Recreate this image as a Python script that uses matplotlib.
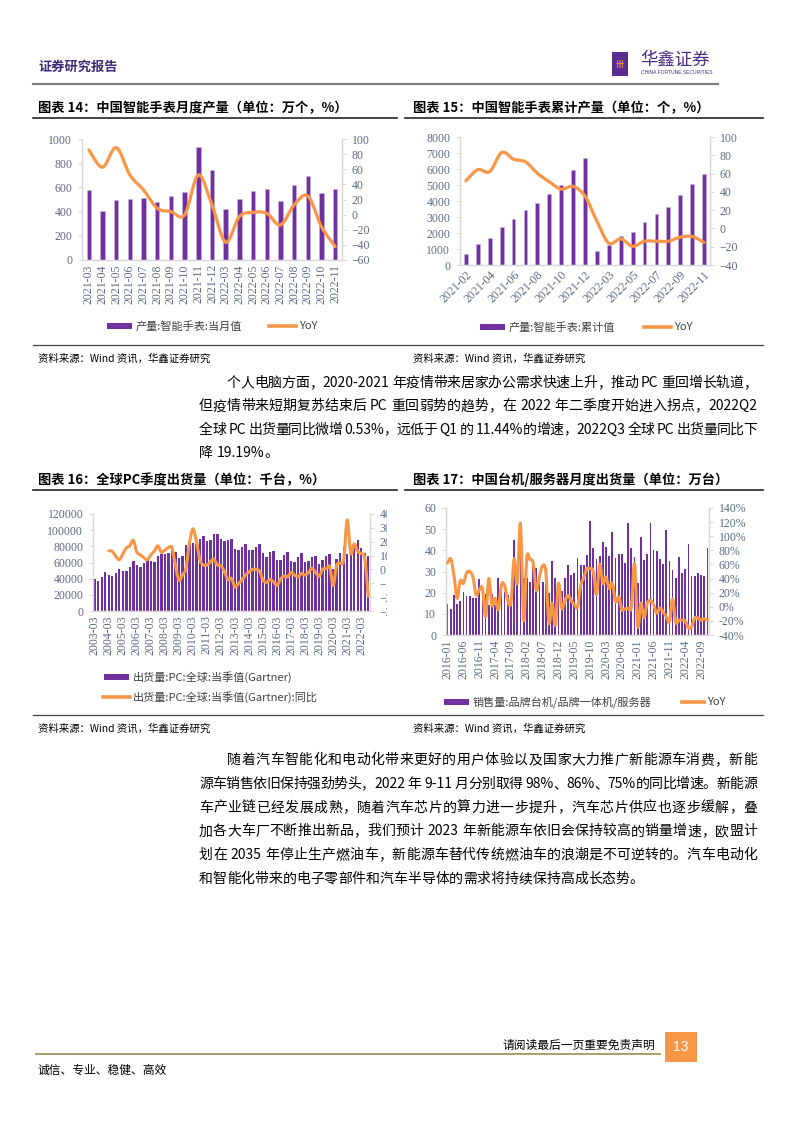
# Report page: smartwatch output, PC shipments, desktop/server shipments
import numpy as np
import matplotlib
matplotlib.use('Agg')
import matplotlib.pyplot as plt
from matplotlib.path import Path
from matplotlib.patches import PathPatch, Rectangle
from matplotlib.lines import Line2D
from matplotlib.transforms import Bbox
from matplotlib.font_manager import FontProperties

plt.rcParams['font.family'] = ['Liberation Serif', 'Noto Sans CJK SC', 'DejaVu Sans']

# ---------------- data ----------------
# chart 14: monthly smartwatch output (10k units) and YoY (%)
c14_months = ['2021-03', '2021-04', '2021-05', '2021-06', '2021-07', '2021-08', '2021-09',
              '2021-10', '2021-11', '2021-12', '2022-03', '2022-04', '2022-05', '2022-06',
              '2022-07', '2022-08', '2022-09', '2022-10', '2022-11']
c14_output = [578, 408, 496, 501, 510, 477, 526, 565, 934, 747, 421, 501, 570, 584, 485, 617, 694, 551, 584]
c14_yoy = [85.5, 62.6, 88.6, 52.4, 32.6, 8.4, 4.0, -0.4, 52.4, 12.8, -36.6, -2.6, 3.0, 1.8,
           -13.7, 12.8, 24.7, -15.9, -42.3]

# chart 15: cumulative smartwatch output and YoY (%)
c15_months = ['2021-02', '2021-03', '2021-04', '2021-05', '2021-06', '2021-07', '2021-08',
              '2021-09', '2021-10', '2021-11', '2021-12', '2022-02', '2022-03', '2022-04',
              '2022-05', '2022-06', '2022-07', '2022-08', '2022-09', '2022-10', '2022-11']
c15_cum = [714, 1302, 1701, 2394, 2898, 3423, 3885, 4410, 4977, 5943, 6678,
           861, 1260, 1785, 2079, 2688, 3171, 3654, 4347, 5082, 5670]
c15_yoy = [52.2, 64.3, 62.1, 83.1, 75.7, 72.8, 60.3, 51.0, 43.0, 46.0, 35.3,
           8.0, -16.2, -11.4, -19.5, -14.0, -14.0, -14.0, -9.6, -8.8, -15.4]

# chart 16: global PC quarterly shipments (k units), 2003Q1 - 2022Q3, YoY from 2004Q1
c16_years = list(range(2003, 2023))
c16_ship = [39500, 37500, 42500, 48500,
            45000, 43000, 47000, 51500,
            50000, 49000, 55000, 62000,
            56500, 54000, 59500, 63000,
            61500, 60500, 68000, 71000,
            71000, 71500, 80500, 73500,
            65500, 68000, 81500, 86000,
            84500, 82500, 88500, 93000,
            87000, 87500, 95000, 95000,
            88700, 86600, 87800, 88700,
            76700, 75500, 79600, 82900,
            75500, 75500, 79600, 82900,
            71300, 67200, 72600, 74600,
            63100, 63100, 69300, 72600,
            61900, 60600, 66400, 71300,
            61000, 61900, 66400, 68000,
            58100, 63100, 67600, 70500,
            51500, 63900, 71300, 79400,
            69900, 71600, 84100, 88400,
            77500, 72000, 68000]
c16_yoy = [13.5, 13.0, 9.5, 7.0, 11.0, 15.5, 17.0, 21.0, 12.5, 10.5, 8.5, 7.0,
           10.5, 13.3, 17.0, 12.4, 14.0, 15.7, 15.7, 3.1, -7.7, -4.1, 0.7, 18.9,
           29.3, 20.0, 6.8, 3.1, 3.1, 5.6, 7.3, 3.1, 2.7, -1.7, -7.3, -6.5,
           -12.6, -10.2, -7.7, -4.1, -1.7, 0.0, 0.0, -1.2, -7.7, -9.4, -7.3, -9.0,
           -11.4, -7.0, -4.8, -5.3, -2.2, -4.1, -5.3, -2.9, -4.1, -2.2, 0.7, -2.2,
           -4.8, 0.2, 0.7, 2.0, -11.4, 3.1, 4.4, 6.8, 35.8, 11.6, 18.4, 12.8,
           11.44, 8.0, -19.19]

# chart 17: China brand desktop / all-in-one / server monthly sales (10k units), 2016-01 - 2022-11
c17_sales = [14.6, 12.3, 19.0, 14.5, 16.1, 20.2, 18.2, 18.2, 17.4, 17.6, 26.5, 17.5,
             19.5, 14.0, 19.5, 14.0, 26.8, 22.0, 20.5, 18.7, 15.0, 45.0, 25.0, 37.0,
             27.0, 27.0, 25.0, 33.0, 31.5, 28.0, 25.0, 28.0, 20.0, 35.0, 27.0, 21.0,
             21.0, 27.0, 33.0, 28.5, 29.5, 36.5, 33.0, 33.0, 38.0, 54.0, 41.0, 36.0,
             37.5, 44.0, 41.5, 37.5, 48.5, 36.5, 38.5, 38.5, 34.0, 53.0, 41.0, 37.0,
             24.5, 46.5, 35.5, 38.5, 53.0, 40.0, 39.5, 36.0, 33.5, 49.5, 35.0, 30.5,
             27.0, 37.0, 29.5, 31.0, 43.0, 28.0, 28.0, 29.5, 28.5, 28.0, 41.0]
c17_yoy = [62, 68, 45, 12, 37, 33, 48, 50, 42, 17, 24, 26,
           -14, 40, 2, 12, -4, 31, 30, 9, 6, 68, 33, 118,
           -19, 69, 67, 62, 23, 43, 58, 50, -23, 5, -26, 33,
           -2, 8, 16, 9, 3, 0, 30, 42, 54, 54, 50, 17,
           60, 33, 42, 26, 33, 7, 14, -4, -3, -2, 0, 61,
           -28, 5, -15, 5, 9, 3, -9, -2, -7, -14, -21, 11,
           -22, -19, -19, -20, -30, -28, -16, -16, -19, -17, -19]

para1 = ['个人电脑方面，2020-2021 年疫情带来居家办公需求快速上升，推动 PC 重回增长轨道，',
         '但疫情带来短期复苏结束后 PC 重回弱势的趋势，在 2022 年二季度开始进入拐点，2022Q2',
         '全球 PC 出货量同比微增 0.53%，远低于 Q1 的 11.44%的增速，2022Q3 全球 PC 出货量同比下',
         '降 19.19%。']
para2 = ['随着汽车智能化和电动化带来更好的用户体验以及国家大力推广新能源车消费，新能',
         '源车销售依旧保持强劲势头，2022 年 9-11 月分别取得 98%、86%、75%的同比增速。新能源',
         '车产业链已经发展成熟，随着汽车芯片的算力进一步提升，汽车芯片供应也逐步缓解，叠',
         '加各大车厂不断推出新品，我们预计 2023 年新能源车依旧会保持较高的销量增速，欧盟计',
         '划在 2035 年停止生产燃油车，新能源车替代传统燃油车的浪潮是不可逆转的。汽车电动化',
         '和智能化带来的电子零部件和汽车半导体的需求将持续保持高成长态势。']

# ---------------- style ----------------
W, H = 794, 1123
PURPLE = '#7030A0'
BAR_EDGE = '#C9B4DE'
ORANGE = '#F79646'
TICK = '#5B6A87'
SPINE = '#D9D9D9'
CJK = ['Noto Sans CJK SC', 'DejaVu Sans']


def box(x0, y0, x1, y1):
    # pixel box (top-left origin) -> figure fraction
    return [x0 / W, 1 - y1 / H, (x1 - x0) / W, (y1 - y0) / H]


def fx(x):
    return x / W


def fy(y):
    return 1 - y / H


def smooth_line(ax, x, y, lw=2.3):
    # Excel-like smoothed line through the data points
    pts = np.column_stack([x, y]).astype(float)
    n = len(pts)
    verts = [pts[0]]
    codes = [Path.MOVETO]
    for i in range(n - 1):
        p0 = pts[max(i - 1, 0)]
        p1 = pts[i]
        p2 = pts[i + 1]
        p3 = pts[min(i + 2, n - 1)]
        verts += [p1 + (p2 - p0) / 6, p2 - (p3 - p1) / 6, p2]
        codes += [Path.CURVE4] * 3
    ax.add_patch(PathPatch(Path(verts, codes), fill=False, edgecolor=ORANGE, lw=lw,
                           capstyle='round', joinstyle='round', zorder=3))


def style(ax, ax2, size=8.5):
    for a in (ax, ax2):
        a.spines['top'].set_visible(False)
        for s in ('left', 'right', 'bottom'):
            a.spines[s].set_color(SPINE)
            a.spines[s].set_linewidth(0.9)
        a.tick_params(labelcolor=TICK, color=SPINE, labelsize=size, length=3, width=0.7, pad=4)
    ax.tick_params(axis='x', length=0, pad=3)
    ax2.tick_params(axis='x', length=0)


def legend_bar(x0, y, label, w=25):
    fig.add_artist(Rectangle((fx(x0), fy(y + 3)), w / W, 6 / H, transform=fig.transFigure,
                             color=PURPLE, lw=0))
    fig.text(fx(x0 + w + 4), fy(y), label, family=CJK, size=8, va='center', color='#404040')


def legend_line(x0, y, label, w=27):
    fig.add_artist(Line2D([fx(x0), fx(x0 + w)], [fy(y), fy(y)], color=ORANGE, lw=2.6,
                          transform=fig.transFigure))
    fig.text(fx(x0 + w + 3), fy(y), label, family=CJK, size=8, va='center', color='#404040')


def hline(x0, x1, y, color='#404040', lw=1.0):
    fig.add_artist(Line2D([fx(x0), fx(x1)], [fy(y), fy(y)], color=color, lw=lw,
                          transform=fig.transFigure))


def paragraph(lines, x_first, x_rest, x_end, y0, step, size=10):
    # justified body text: CJK chars and ASCII runs spread to fill the line
    renderer = fig.canvas.get_renderer()
    prop = FontProperties(family=CJK, size=size)
    px = size * 100 / 72
    for i, line in enumerate(lines):
        tokens = []
        run = ''
        for ch in line:
            if ch == ' ':
                if run:
                    tokens.append(run)
                    run = ''
                tokens.append(' ')
            elif ord(ch) < 128:
                run += ch
            else:
                if run:
                    tokens.append(run)
                    run = ''
                tokens.append(ch)
        if run:
            tokens.append(run)
        widths = []
        for t in tokens:
            if t == ' ':
                widths.append(0.25 * px)
            elif ord(t[0]) >= 128:
                widths.append(px)
            else:
                widths.append(renderer.get_text_width_height_descent(t, prop, ismath=False)[0])
        x = x_first if i == 0 else x_rest
        last = i == len(lines) - 1
        extra = 0 if last else (x_end - x - sum(widths)) / (len(tokens) - 1)
        y = y0 + step * i
        for t, w in zip(tokens, widths):
            if t != ' ':
                fig.text(fx(x), fy(y), t, family=CJK, size=size, va='center')
            x += w + extra


fig = plt.figure(figsize=(W / 100, H / 100), dpi=100)

# ---------------- header ----------------
fig.text(fx(38), fy(67), '证券研究报告', family=CJK, weight='bold', size=9.5,
         color='#3F2A7A', va='center')
fig.add_artist(Rectangle((fx(612), fy(76)), 16 / W, 24 / H, transform=fig.transFigure,
                         color='#5B2C8E', lw=0))
fig.text(fx(620), fy(64), '卌', family=CJK, size=6, color='#F7A23A', ha='center', va='center')
fig.text(fx(640), fy(60), '华鑫证券', family=CJK, size=12.5, color='#4B2C83', va='center')
fig.text(fx(641), fy(73), 'CHINA FORTUNE SECURITIES', family=['Liberation Sans'], size=3.6,
         color='#4B2C83', va='center')
hline(33, 718, 84, color='#7F7F7F', lw=1.6)

# ---------------- titles ----------------
fig.text(fx(38), fy(108), '图表 14：中国智能手表月度产量（单位：万个，%）', family=CJK,
         weight='bold', size=9.5, va='center')
fig.text(fx(413), fy(108), '图表 15：中国智能手表累计产量（单位：个，%）', family=CJK,
         weight='bold', size=9.5, va='center')
hline(33, 397, 118, color='#262626', lw=1.2)
hline(405, 763, 118, color='#262626', lw=1.2)

# ---------------- chart 14 ----------------
ax = fig.add_axes(box(82, 139, 342, 260))
x14 = np.arange(len(c14_months))
ax.bar(x14, c14_output, width=0.32, color=PURPLE, edgecolor=BAR_EDGE, linewidth=0.4)
ax.set_xlim(-0.5, len(x14) - 0.5)
ax.set_ylim(0, 1000)
ax.set_yticks(range(0, 1001, 200))
ax.set_xticks(x14)
ax.set_xticklabels(c14_months, rotation=90)
ax2 = ax.twinx()
ax2.set_ylim(-60, 100)
ax2.set_yticks(range(-60, 101, 20))
smooth_line(ax2, x14, c14_yoy)
style(ax, ax2)
legend_bar(107, 326, '产量:智能手表:当月值')
legend_line(269, 326, 'YoY')

# ---------------- chart 15 ----------------
ax = fig.add_axes(box(460, 137, 710, 265))
x15 = np.arange(len(c15_months))
ax.bar(x15, c15_cum, width=0.32, color=PURPLE, edgecolor=BAR_EDGE, linewidth=0.4)
ax.set_xlim(-0.5, len(x15) - 0.5)
ax.set_ylim(0, 8000)
ax.set_yticks(range(0, 8001, 1000))
ax.set_xticks(x15[::2])
ax.set_xticklabels(c15_months[::2], rotation=45, ha='right', rotation_mode='anchor')
ax2 = ax.twinx()
ax2.set_ylim(-40, 100)
ax2.set_yticks(range(-40, 101, 20))
smooth_line(ax2, x15, c15_yoy)
style(ax, ax2)
legend_bar(480, 327, '产量:智能手表:累计值')
legend_line(644, 327, 'YoY')

# ---------------- sources / paragraph 1 ----------------
hline(33, 763, 345, lw=0.9)
fig.text(fx(38), fy(359), '资料来源：Wind 资讯，华鑫证券研究', family=CJK, size=7.5, va='center')
fig.text(fx(413), fy(359), '资料来源：Wind 资讯，华鑫证券研究', family=CJK, size=7.5, va='center')
paragraph(para1, 227, 199, 757, 383, 23.3)

fig.text(fx(38), fy(480), '图表 16：全球PC季度出货量（单位：千台，%）', family=CJK,
         weight='bold', size=9.5, va='center')
fig.text(fx(413), fy(480), '图表 17：中国台机/服务器月度出货量（单位：万台）', family=CJK,
         weight='bold', size=9.5, va='center')
hline(33, 397, 490, color='#262626', lw=1.2)
hline(405, 763, 490, color='#262626', lw=1.2)

# ---------------- chart 16 ----------------
ax = fig.add_axes(box(93, 514, 370, 611))
x16 = np.arange(len(c16_ship))
ax.bar(x16, c16_ship, width=0.68, color=PURPLE, edgecolor='none')
ax.set_xlim(-0.5, len(x16) - 0.5)
ax.set_ylim(0, 120000)
ax.set_yticks(range(0, 120001, 20000))
ax.set_xticks(x16[::4])
ax.set_xticklabels(['%d-03' % y for y in c16_years], rotation=90)
ax2 = ax.twinx()
ax2.set_ylim(-30, 40)
ax2.set_yticks(range(-30, 41, 10))
smooth_line(ax2, x16[4:], c16_yoy, lw=2.2)
style(ax, ax2, size=8.5)
# right labels are cut off at the panel edge in the source
clip = Bbox.from_extents(0, 0, 387, H)
for t in ax2.get_yticklabels():
    t.set_clip_box(clip)
    t.set_clip_on(True)
legend_bar(104, 677, '出货量:PC:全球:当季值(Gartner)')
legend_line(103, 697, '出货量:PC:全球:当季值(Gartner):同比')

# ---------------- chart 17 ----------------
ax = fig.add_axes(box(446, 508, 709, 635))
x17 = np.arange(len(c17_sales))
m17 = ['%d-%02d' % (2016 + i // 12, i % 12 + 1) for i in x17]
ax.bar(x17, c17_sales, width=0.55, color=PURPLE, edgecolor='none')
ax.set_xlim(-0.5, len(x17) - 0.5)
ax.set_ylim(0, 60)
ax.set_yticks(range(0, 61, 10))
ax.set_xticks(x17[::5])
ax.set_xticklabels(m17[::5], rotation=90)
ax2 = ax.twinx()
ax2.set_ylim(-40, 140)
ax2.set_yticks(range(-40, 141, 20))
ax2.set_yticklabels(['%d%%' % v for v in range(-40, 141, 20)])
smooth_line(ax2, x17, c17_yoy, lw=2.2)
style(ax, ax2, size=8.5)
legend_bar(444, 702, '销售量:品牌台机/品牌一体机/服务器')
legend_line(682, 702, 'YoY', w=22)

# ---------------- sources / paragraph 2 ----------------
hline(33, 763, 715, lw=0.9)
fig.text(fx(38), fy(729), '资料来源：Wind 资讯，华鑫证券研究', family=CJK, size=7.5, va='center')
fig.text(fx(413), fy(729), '资料来源：Wind 资讯，华鑫证券研究', family=CJK, size=7.5, va='center')
paragraph(para2, 227, 199, 757, 760, 23.8)

# ---------------- footer ----------------
fig.text(fx(655), fy(1045), '请阅读最后一页重要免责声明', family=CJK, size=8.5, ha='right',
         va='center')
fig.add_artist(Rectangle((fx(665), fy(1062)), 32 / W, 30 / H, transform=fig.transFigure,
                         color='#F79646', lw=0))
fig.text(fx(681), fy(1047), '13', family=['Liberation Sans'], size=10, color='white',
         ha='center', va='center')
hline(36, 660, 1054, color='#9C8F4E', lw=1.2)
fig.text(fx(38), fy(1070), '诚信、专业、稳健、高效', family=CJK, size=8.5, va='center')

fig.savefig('out.png', dpi=100)
